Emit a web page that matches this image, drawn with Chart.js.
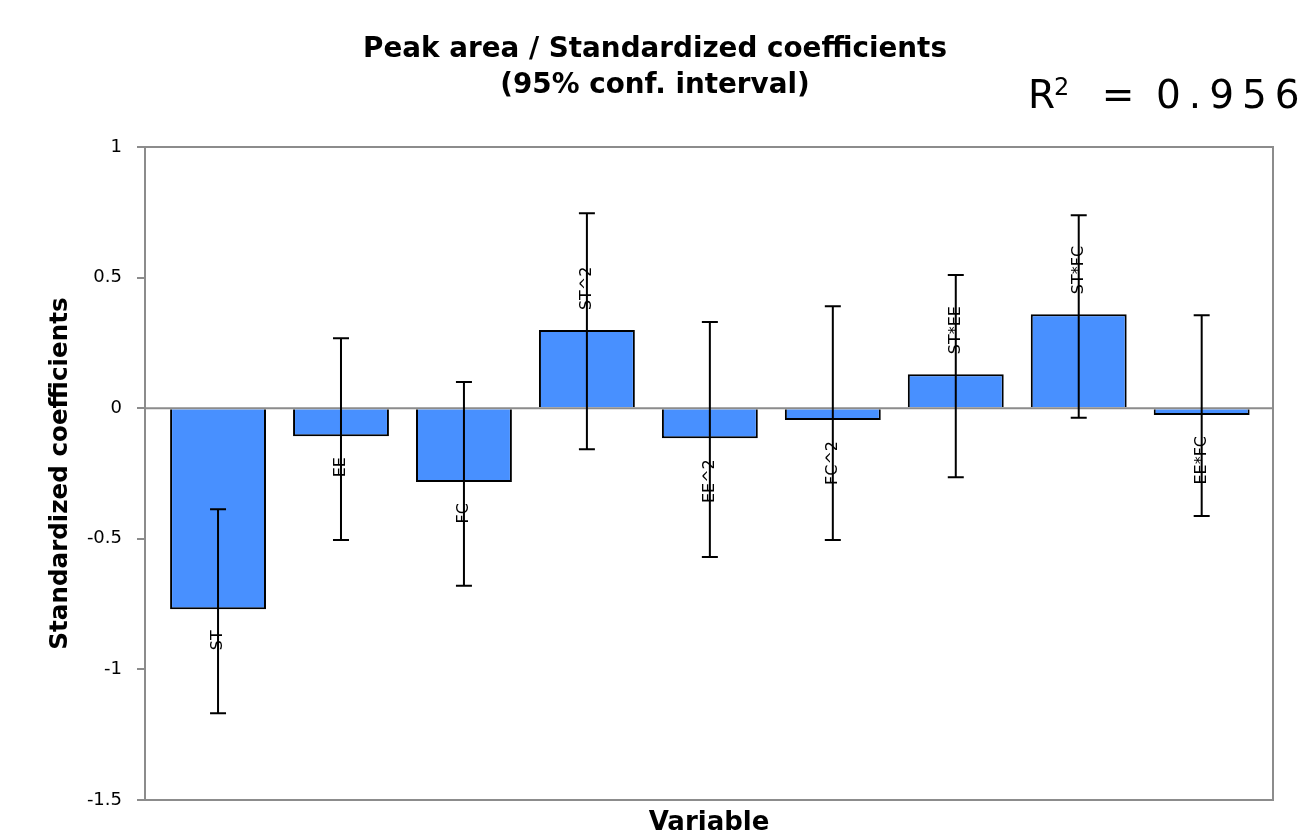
<!DOCTYPE html>
<html>
<head>
<meta charset="utf-8">
<script src="https://cdn.jsdelivr.net/npm/chart.js@4"></script>
<style>
  html, body { margin: 0; padding: 0; background: #fff; }
  #chart { display: block; }
</style>
</head>
<body>
<canvas id="chart" width="1313" height="830"></canvas>
<script>
const categories = ['ST', 'EE', 'FC', 'ST^2', 'EE^2', 'FC^2', 'ST*EE', 'ST*FC', 'EE*FC'];
const coefficients = [-0.770, -0.107, -0.283, 0.299, -0.115, -0.045, 0.130, 0.360, -0.026];
const lowerBounds = [-1.168, -0.505, -0.680, -0.157, -0.570, -0.505, -0.264, -0.037, -0.413];
const upperBounds = [-0.387, 0.268, 0.100, 0.746, 0.330, 0.390, 0.510, 0.739, 0.356];
const yTicks = [-1.5, -1, -0.5, 0, 0.5, 1];
const titleLines = ['Peak area / Standardized coefficients', '(95% conf. interval)'];
const r2Value = '0.956';

const axisGray = '#8c8c8c';
const sans = '"DejaVu Sans", sans-serif';

const overlay = {
  id: 'overlay',
  afterDatasetsDraw(chart) {
    const { ctx, chartArea: a, scales: { x, y } } = chart;
    ctx.save();

    // zero line and the rest of the frame
    ctx.strokeStyle = axisGray;
    ctx.lineWidth = 2;
    const y0 = y.getPixelForValue(0);
    ctx.beginPath();
    ctx.moveTo(a.left, y0); ctx.lineTo(a.right, y0);
    ctx.moveTo(a.left, a.top); ctx.lineTo(a.right, a.top); ctx.lineTo(a.right, a.bottom);
    ctx.stroke();

    // error bars (95% conf. interval)
    ctx.strokeStyle = '#000';
    ctx.lineWidth = 2;
    categories.forEach((c, i) => {
      const px = x.getPixelForValue(i);
      const lo = y.getPixelForValue(lowerBounds[i]);
      const hi = y.getPixelForValue(upperBounds[i]);
      ctx.beginPath();
      ctx.moveTo(px, lo); ctx.lineTo(px, hi);
      ctx.moveTo(px - 8, lo); ctx.lineTo(px + 8, lo);
      ctx.moveTo(px - 8, hi); ctx.lineTo(px + 8, hi);
      ctx.stroke();
    });

    // bar labels, rotated, just past the end of each bar
    ctx.fillStyle = '#000';
    ctx.font = '16px ' + sans;
    ctx.textBaseline = 'middle';
    categories.forEach((c, i) => {
      const px = x.getPixelForValue(i);
      const end = y.getPixelForValue(coefficients[i]);
      const pos = coefficients[i] >= 0;
      ctx.save();
      ctx.translate(px, pos ? end - 20 : end + 21);
      ctx.rotate(-Math.PI / 2);
      ctx.textAlign = pos ? 'left' : 'right';
      ctx.fillText(c, 0, 0);
      ctx.restore();
    });
    ctx.restore();
  },
  afterDraw(chart) {
    const { ctx } = chart;
    ctx.save();
    ctx.fillStyle = '#000';
    ctx.textAlign = 'center';
    ctx.textBaseline = 'middle';
    ctx.font = 'bold 27.8px ' + sans;
    ctx.fillText(titleLines[0], 655, 50);
    ctx.fillText(titleLines[1], 655, 86);

    // R^2 annotation
    ctx.textBaseline = 'alphabetic';
    ctx.textAlign = 'left';
    ctx.font = '39px ' + sans;
    ctx.fillText('R', 1028, 108);
    ctx.font = '24px ' + sans;
    ctx.fillText('2', 1054, 95);
    ctx.font = '39px ' + sans;
    ctx.textAlign = 'center';
    ctx.fillText('=', 1118, 108);
    ctx.textAlign = 'left';
    ctx.letterSpacing = '8px';
    ctx.fillText(r2Value, 1156, 108);
    ctx.restore();
  }
};

new Chart(document.getElementById('chart'), {
  type: 'bar',
  data: {
    datasets: [{
      data: coefficients.map((v, i) => ({ x: i, y: v })),
      backgroundColor: '#4890FF',
      borderColor: '#000',
      borderWidth: 2,
      barPercentage: 0.78,
      categoryPercentage: 1.0
    }]
  },
  options: {
    responsive: false,
    animation: false,
    layout: { padding: { top: 147, right: 40, bottom: 0, left: 0 } },
    plugins: {
      legend: { display: false },
      tooltip: { enabled: false }
    },
    scales: {
      x: {
        type: 'linear',
        offset: false,
        min: -0.594,
        max: 8.58,
        afterBuildTicks(scale) { scale.ticks = categories.map((c, i) => ({ value: i })); },
        afterFit(scale) { scale.height = 30; },
        grid: { display: false },
        ticks: { display: false },
        border: { display: true, color: axisGray, width: 2 },
        title: {
          display: true,
          text: 'Variable',
          color: '#000',
          font: { family: sans, size: 26, weight: 'bold' },
          padding: { top: 0, bottom: -9 }
        }
      },
      y: {
        min: -1.5,
        max: 1,
        afterBuildTicks(scale) { scale.ticks = yTicks.map(v => ({ value: v })); },
        afterFit(scale) { scale.width = 145; },
        grid: { drawOnChartArea: false, drawTicks: true, tickLength: 8, color: axisGray, lineWidth: 2 },
        border: { display: true, color: axisGray, width: 2 },
        ticks: {
          color: '#000',
          padding: 15,
          font: { family: sans, size: 18 },
          callback: v => String(v)
        },
        title: {
          display: true,
          text: 'Standardized coefficients',
          color: '#000',
          font: { family: sans, size: 24.6, weight: 'bold' },
          padding: { top: 46, bottom: 0 }
        }
      }
    }
  },
  plugins: [overlay]
});
</script>
</body>
</html>
